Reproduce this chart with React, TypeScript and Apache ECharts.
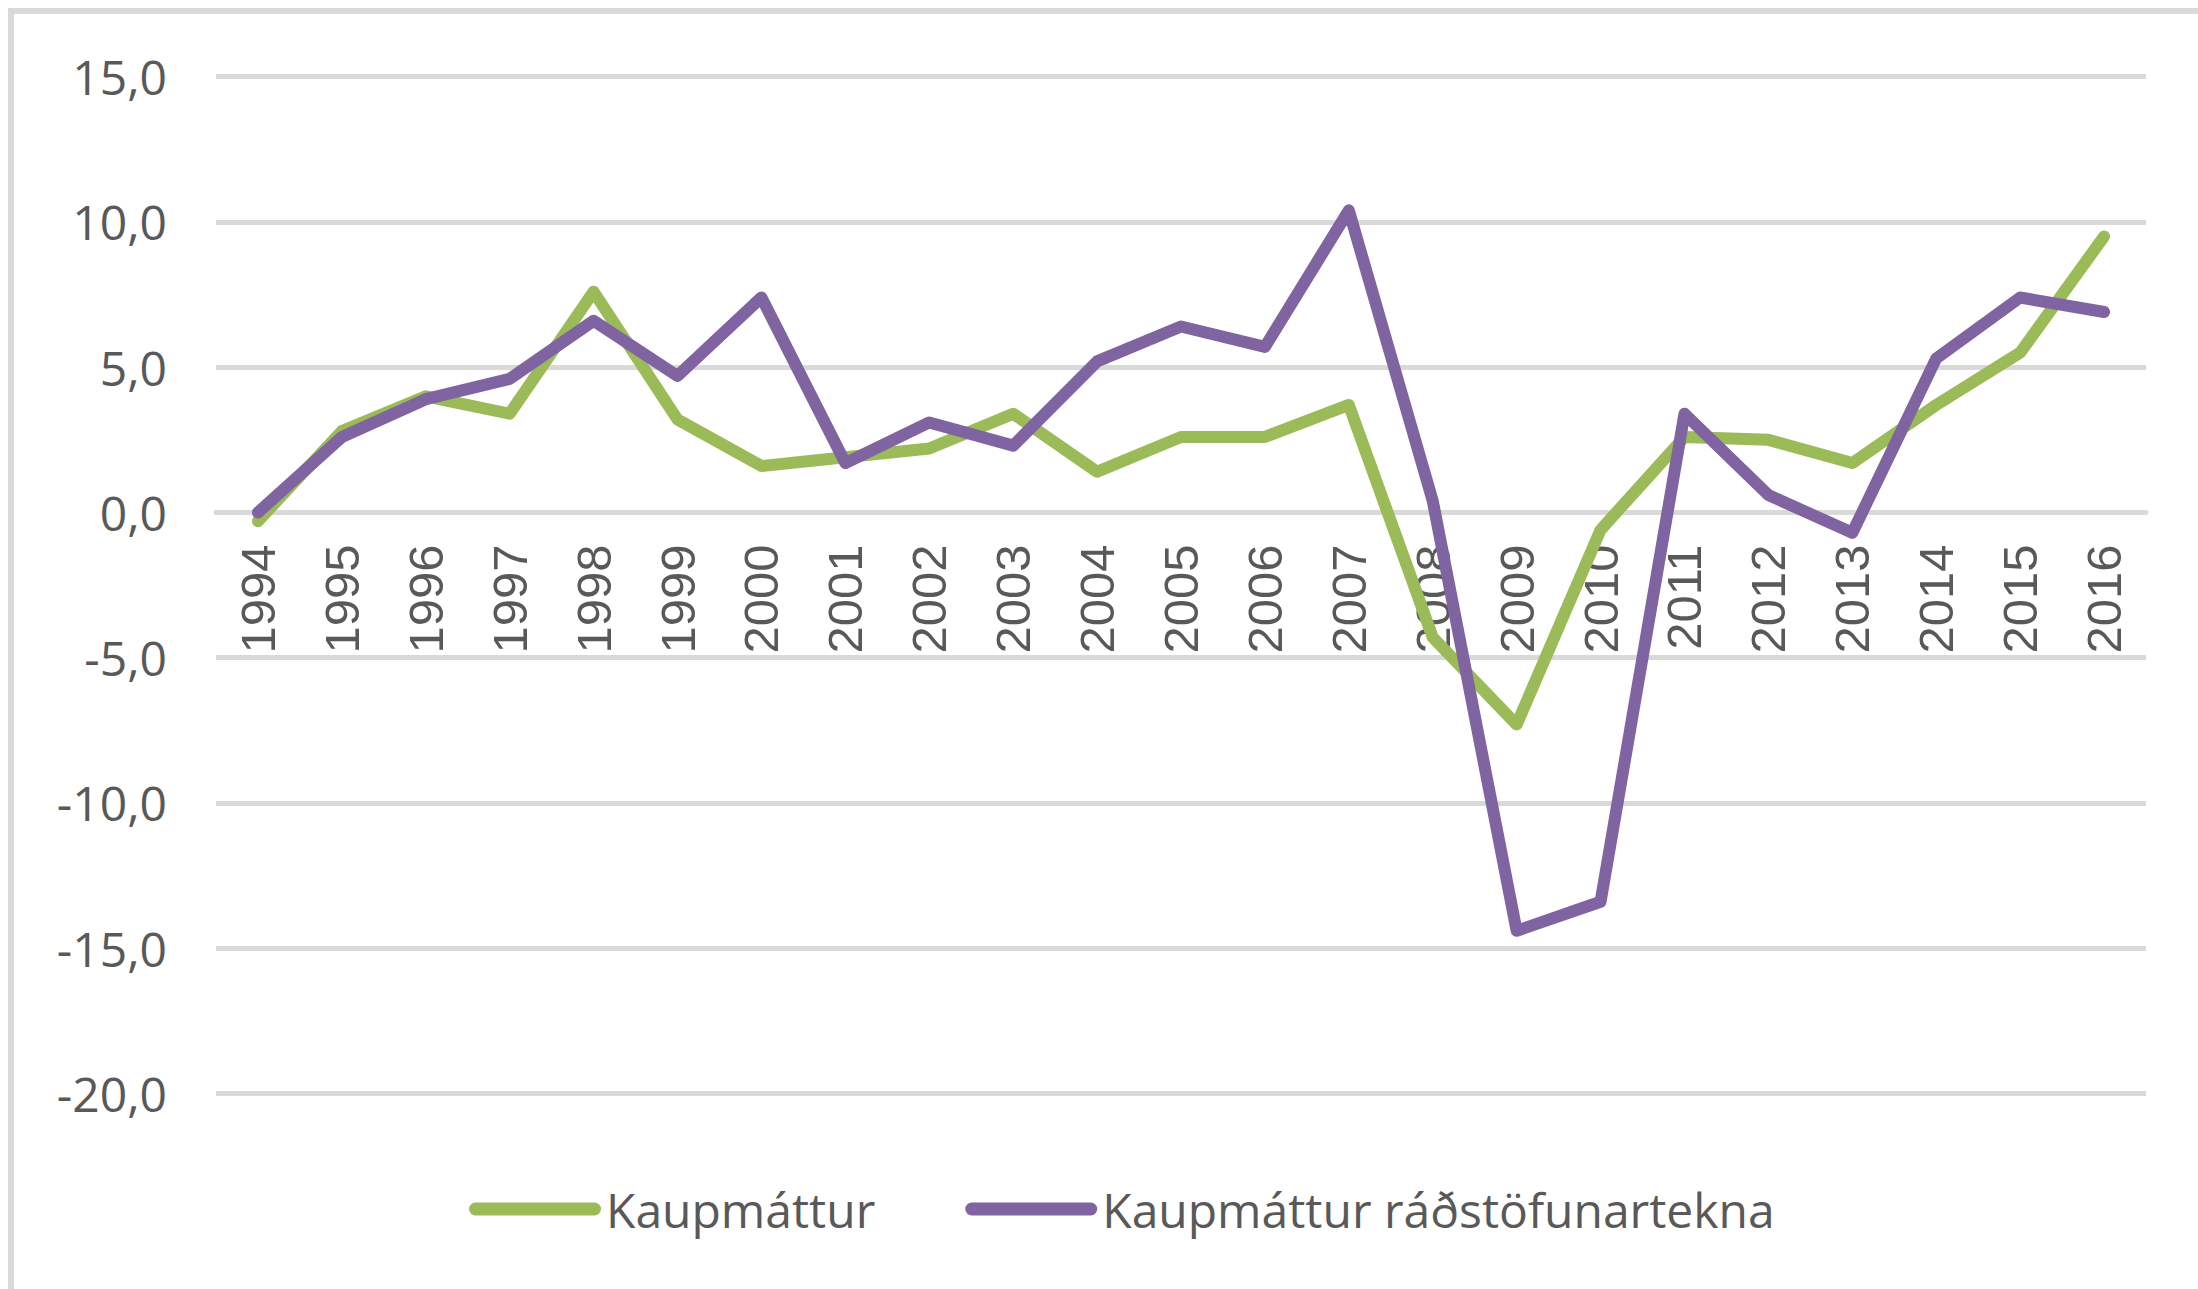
import React, { useEffect, useRef } from "react";
import * as echarts from "echarts";

const years = [
  "1994", "1995", "1996", "1997", "1998", "1999", "2000", "2001", "2002", "2003", "2004", "2005",
  "2006", "2007", "2008", "2009", "2010", "2011", "2012", "2013", "2014", "2015", "2016",
];
const kaupmattur = [
  -0.3, 2.8, 4.0, 3.4, 7.6, 3.2, 1.6, 1.9, 2.2, 3.4, 1.4, 2.6,
  2.6, 3.7, -4.3, -7.3, -0.6, 2.6, 2.5, 1.7, 3.7, 5.5, 9.5,
];
const kaupmatturRad = [
  0.0, 2.6, 3.9, 4.6, 6.6, 4.7, 7.4, 1.7, 3.1, 2.3, 5.2, 6.4,
  5.7, 10.4, 0.4, -14.4, -13.4, 3.4, 0.6, -0.7, 5.3, 7.4, 6.9,
];
const seriesNames = ["Kaupmáttur", "Kaupmáttur ráðstöfunartekna"];
const seriesColors = ["#9BBB59", "#8064A2"];
const yMin = -20;
const yMax = 15;
const yStep = 5;

const gridTop = 76.7;
const gridBottom = 195.5;
const chartH = 1289;

export default function App() {
  const ref = useRef<HTMLDivElement>(null);
  useEffect(() => {
    if (!ref.current) return;
    const chart = echarts.init(ref.current, null, { renderer: "svg" });
    const capsule =
      "path://M6.5,0 L125.5,0 A6.5,6.5 0 0 1 125.5,13 L6.5,13 A6.5,6.5 0 0 1 6.5,0 Z";
    // distance from grid bottom to the zero line, derived from the axis range
    const plotH = chartH - gridTop - gridBottom;
    const zeroOffset = -plotH * ((0 - yMin) / (yMax - yMin));
    chart.setOption({
      animation: false,
      backgroundColor: "#ffffff",
      graphic: [
        {
          type: "rect",
          shape: { x: 11, y: 11, width: 2600, height: 2000 },
          style: { fill: "none", stroke: "#d9d9d9", lineWidth: 6 },
          silent: true,
        },
      ],
      grid: { left: 216, right: 52, top: gridTop, bottom: gridBottom, containLabel: false },
      legend: {
        left: 469,
        top: 1181,
        padding: 0,
        itemWidth: 132,
        itemHeight: 13,
        itemGap: 90,
        icon: capsule,
        textStyle: {
          fontFamily: "Open Sans",
          fontSize: 48,
          color: "#595959",
          lineHeight: 56,
        },
        data: seriesNames,
      },
      xAxis: {
        type: "category",
        data: years,
        boundaryGap: true,
        position: "bottom",
        offset: zeroOffset,
        axisLine: { show: true, onZero: false, lineStyle: { color: "#d9d9d9", width: 5 } },
        axisTick: { show: false },
        axisLabel: {
          rotate: 90,
          margin: 32,
          interval: 0,
          fontFamily: "Liberation Sans",
          fontSize: 49,
          color: "#595959",
        },
        splitLine: { show: false },
      },
      yAxis: {
        type: "value",
        min: yMin,
        max: yMax,
        interval: yStep,
        axisLine: { show: false },
        axisTick: { show: false },
        axisLabel: {
          margin: 49,
          fontFamily: "Open Sans",
          fontSize: 48,
          color: "#595959",
          formatter: (v: number) => v.toFixed(1).replace(".", ","),
        },
        splitLine: { lineStyle: { color: "#d9d9d9", width: 5 } },
      },
      series: [
        {
          name: seriesNames[0],
          type: "line",
          data: kaupmattur,
          color: seriesColors[0],
          symbol: "none",
          lineStyle: { width: 12, color: seriesColors[0], cap: "round", join: "round" },
        },
        {
          name: seriesNames[1],
          type: "line",
          data: kaupmatturRad,
          color: seriesColors[1],
          symbol: "none",
          lineStyle: { width: 12, color: seriesColors[1], cap: "round", join: "round" },
        },
      ],
    });
    return () => chart.dispose();
  }, []);
  return (
    <div
      ref={ref}
      style={{ position: "fixed", left: 0, top: 0, width: 2198, height: 1289 }}
    />
  );
}
